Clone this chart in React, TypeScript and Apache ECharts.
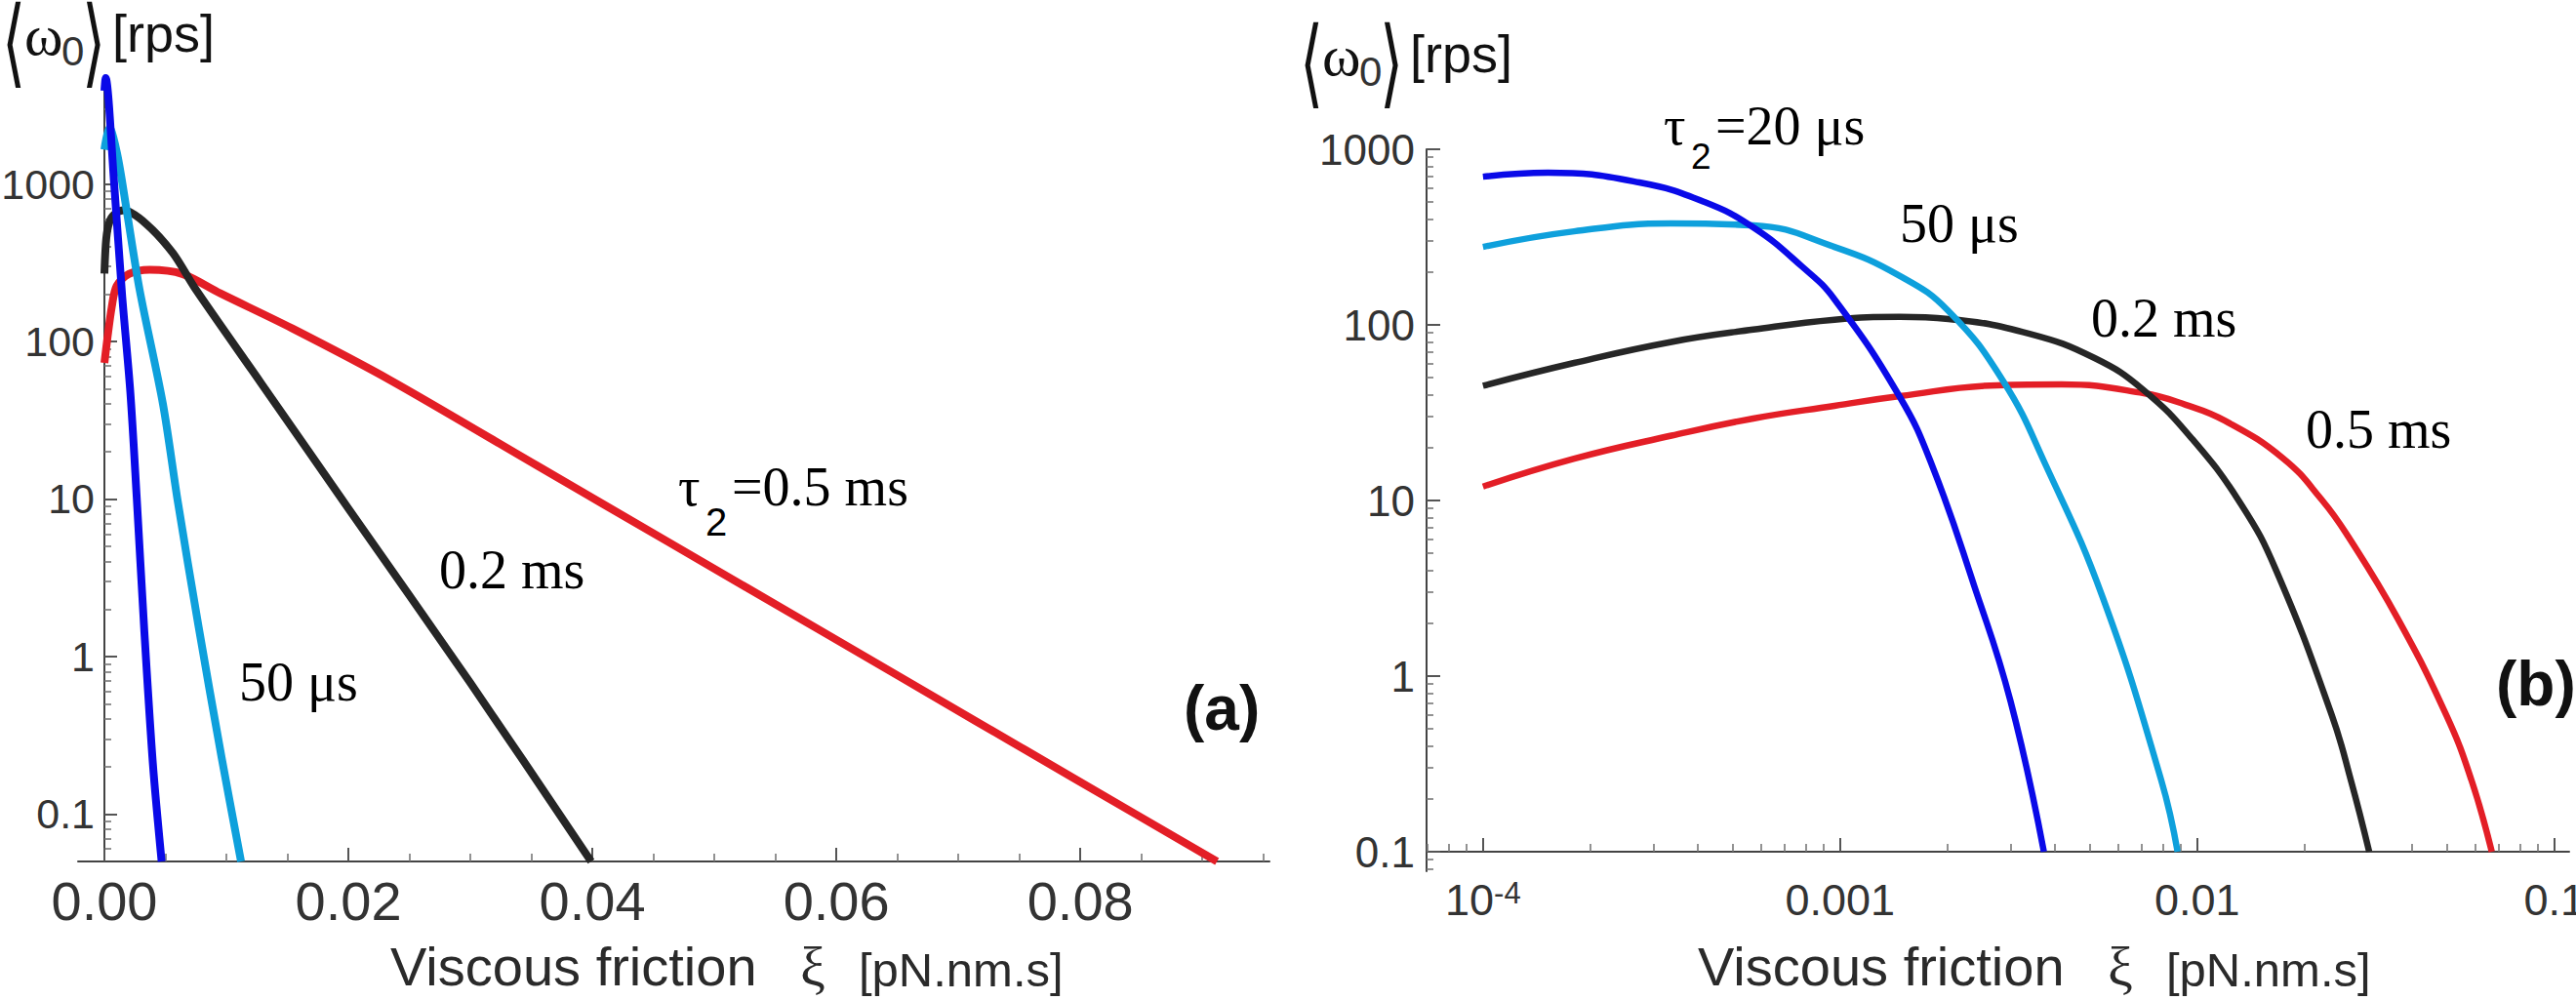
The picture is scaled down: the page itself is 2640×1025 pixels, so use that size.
import React, { useEffect, useRef } from "react";
import * as echarts from "echarts";

// ---------------- data: panel (a), linear xi, log omega ----------------
const aXi20us = [0, 0.0001, 0.0008, 0.00144, 0.00213, 0.00264, 0.00326, 0.00397, 0.00469];
const aW20us = [3900, 4700, 1000, 202, 47, 10.5, 1.5, 0.21, 0.05];

const aXi50us = [0, 0.0004, 0.00104, 0.0018, 0.00288, 0.0048, 0.006, 0.0077, 0.0096, 0.0112];
const aW50us = [1650, 2290, 1560, 700, 214, 40, 9.8, 1.58, 0.23, 0.05];

const aXi02ms = [0, 0.00015, 0.0004, 0.0008, 0.0016, 0.0034, 0.0056, 0.0074, 0.0128, 0.02, 0.03, 0.0399];
const aW02ms = [270, 450, 570, 640, 680, 560, 365, 219, 55, 8.7, 0.68, 0.05];

const aXi05ms = [0, 0.00024, 0.0006, 0.001, 0.002, 0.0037, 0.0064, 0.0095, 0.0154, 0.0234, 0.0354, 0.0461, 0.0594, 0.0714, 0.0794, 0.0912];
const aW05ms = [73, 104, 165, 225, 268, 285, 268, 202, 121, 57, 16.4, 5.4, 1.36, 0.39, 0.17, 0.05];

// ---------------- data: panel (b), log xi, log omega ----------------
const bXi20us = [1e-4, 1.52e-4, 2.74e-4, 4.17e-4, 5.71e-4, 7.82e-4, 9.64e-4, 1.47e-3, 1.81e-3, 2.37e-3, 3.0e-3, 3.72e-3];
const bW20us = [698, 736, 647, 501, 359, 215, 140, 38.8, 15.8, 3.3, 0.72, 0.1];

const bXi50us = [1e-4, 1.8e-4, 3.37e-4, 5.71e-4, 9.64e-4, 1.47e-3, 2.01e-3, 2.86e-3, 3.77e-3, 5.43e-3, 7.93e-3, 8.81e-3];
const bW50us = [278, 341, 378, 369, 278, 190, 120, 47.9, 15.8, 2.82, 0.255, 0.1];

const bXi02ms = [1e-4, 1.8e-4, 3.37e-4, 5.71e-4, 9.64e-4, 1.47e-3, 2.01e-3, 3.39e-3, 5.16e-3, 7.08e-3, 9.68e-3, 1.327e-2, 1.663e-2, 2.38e-2, 2.7e-2, 3.03e-2];
const bW02ms = [45, 60.7, 80, 94, 107, 111, 108, 89, 64.7, 42.5, 22.4, 9.5, 4.0, 0.6, 0.25, 0.1];

const bXi05ms = [1e-4, 1.8e-4, 3.37e-4, 5.71e-4, 9.64e-4, 1.47e-3, 2.75e-3, 4.17e-3, 7.08e-3, 9.27e-3, 1.194e-2, 1.738e-2, 2.24e-2, 2.65e-2, 3.63e-2, 4.98e-2, 5.86e-2, 6.68e-2];
const bW05ms = [12, 17.3, 23.4, 29.3, 34.6, 39.3, 45.3, 45.8, 40.8, 35.1, 28.5, 17.4, 10, 6.2, 2.15, 0.6, 0.255, 0.1];

// ---------------- ticks ----------------
const aXMajor = [0, 0.02, 0.04, 0.06, 0.08];
const aXMinor = [0.005, 0.01, 0.015, 0.025, 0.03, 0.035, 0.045, 0.05, 0.055, 0.065, 0.07, 0.075, 0.085, 0.09, 0.095];
const aYMajor = [0.1, 1, 10, 100, 1000];
const aYMinor = [0.06, 0.07, 0.08, 0.09, 0.2, 0.3, 0.4, 0.5, 0.6, 0.7, 0.8, 0.9, 2, 3, 4, 5, 6, 7, 8, 9,
  20, 30, 40, 50, 60, 70, 80, 90, 200, 300, 400, 500, 600, 700, 800, 900, 2000, 3000, 4000];

const bXMajor = [1e-4, 1e-3, 1e-2, 1e-1];
const bXMajorLabels = ["{b|10}{s|-4}", "0.001", "0.01", "0.1"];
const bXMinor = [7e-5, 8e-5, 9e-5, 2e-4, 3e-4, 4e-4, 5e-4, 6e-4, 7e-4, 8e-4, 9e-4,
  2e-3, 3e-3, 4e-3, 5e-3, 6e-3, 7e-3, 8e-3, 9e-3, 0.02, 0.03, 0.04, 0.05, 0.06, 0.07, 0.08, 0.09];
const bYMajor = [0.1, 1, 10, 100, 1000];
const bYMinor = [0.08, 0.09, 0.2, 0.3, 0.4, 0.5, 0.6, 0.7, 0.8, 0.9, 2, 3, 4, 5, 6, 7, 8, 9,
  20, 30, 40, 50, 60, 70, 80, 90, 200, 300, 400, 500, 600, 700, 800, 900];

const COLORS = { tau20: "#0a0ae8", tau50: "#0ea0dc", tau02: "#262626", tau05: "#e31e26" };

const SANS = "'Liberation Sans', Arial, Helvetica, sans-serif";
const NARROW = "'Liberation Sans Narrow', 'Arial Narrow', 'Liberation Sans', sans-serif";
const SERIF = "'Liberation Serif', 'Times New Roman', serif";
const BRACKET = "'DejaVu Sans', sans-serif";

const zip = (xs: number[], ys: number[]) => xs.map((x, i) => [x, ys[i]]);

function txt(x: number, baseline: number, text: string, size: number, family: string, color = "#000", weight = "normal", extra: any = {}) {
  const k = family === SERIF ? 0.3375 : 0.3465;
  return {
    type: "text",
    x,
    y: baseline - k * size,
    silent: true,
    ...extra,
    style: {
      text,
      font: `${weight} ${size}px ${family}`,
      fontSize: size,
      fontFamily: family,
      fontWeight: weight,
      fill: color,
      align: "left",
      verticalAlign: "middle",
      textAlign: "left",
      textVerticalAlign: "middle",
    },
  };
}

// tall thin angle bracket: text glyph stretched vertically around its centre
function bracket(x: number, centerY: number, ch: string) {
  return {
    type: "text",
    x,
    y: centerY + 6,
    scaleY: 1.6,
    silent: true,
    style: {
      text: ch,
      font: `normal 62px ${BRACKET}`,
      fontSize: 62,
      fontFamily: BRACKET,
      fill: "#111",
      align: "left",
      verticalAlign: "middle",
      textAlign: "left",
      textVerticalAlign: "middle",
    },
  };
}

function yTitle(dx: number, dy: number) {
  return [
    bracket(2 + dx, 37 + dy, "\u27E8"),
    txt(25 + dx, 56 + dy, "\u03C9", 60, SERIF, "#111"),
    txt(63 + dx, 67 + dy, "0", 42, NARROW, "#333"),
    bracket(84 + dx, 37 + dy, "\u27E9"),
    txt(115 + dx, 53 + dy, "[rps]", 54, SANS, "#111"),
  ];
}

function xTitle(dx: number) {
  return [
    txt(400 + dx, 1010, "Viscous friction", 56, SANS, "#2a2a2a"),
    txt(820 + dx, 1010, "\u03BE", 58, SERIF, "#2a2a2a"),
    txt(880 + dx, 1011, "[pN.nm.s]", 49, SANS, "#2a2a2a"),
  ];
}

function tauLabel(x: number, base: number, rest: string, subSize: number, subDrop: number, restDx: number) {
  return [
    txt(x, base, "\u03C4", 56, SERIF),
    txt(x + 28, base + subDrop, "2", subSize, SANS),
    txt(x + restDx, base, rest, 56, SERIF),
  ];
}

function lineSeries(xAxisIndex: number, yAxisIndex: number, xs: number[], ys: number[], color: string, width: number, name: string, smooth: number) {
  return {
    type: "line",
    name,
    xAxisIndex,
    yAxisIndex,
    data: zip(xs, ys),
    showSymbol: false,
    symbol: "none",
    smooth,
    clip: true,
    lineStyle: { color, width, cap: "butt", join: "round" },
    itemStyle: { color },
    emphasis: { disabled: true },
  };
}

const AXIS_LINE = { color: "#444", width: 2 };
const MAJOR_TICK = { color: "#555", width: 2 };
const MINOR_TICK = { color: "#777", width: 1.6 };

function buildOption() {
  const gridCommon = { containLabel: false, outerBoundsMode: "none", show: false };
  const majorLabel = (size: number, family: string, margin: number) => ({
    show: true,
    fontSize: size,
    fontFamily: family,
    color: "#333",
    margin,
  });

  return {
    animation: false,
    backgroundColor: "#ffffff",
    grid: [
      { ...gridCommon, left: 80, top: 80, width: 1221, height: 803 },
      { ...gridCommon, left: 1462, top: 153, width: 1171, height: 720 },
      { ...gridCommon, left: 1462, top: 153, width: 1171, height: 740 },
    ],
    xAxis: [
      {
        type: "value", gridIndex: 0, position: "bottom", min: -0.00216, max: 0.0955,
        axisLine: { show: true, onZero: false, lineStyle: AXIS_LINE },
        axisTick: { show: true, inside: true, length: 14, customValues: aXMajor, lineStyle: MAJOR_TICK },
        axisLabel: { ...majorLabel(56, NARROW, 12), customValues: aXMajor, formatter: (v: number) => v.toFixed(2) },
        splitLine: { show: false },
      },
      {
        type: "value", gridIndex: 0, position: "bottom", min: -0.00216, max: 0.0955,
        axisLine: { show: false, onZero: false },
        axisTick: { show: true, inside: true, length: 8, customValues: aXMinor, lineStyle: MINOR_TICK },
        axisLabel: { show: false },
        splitLine: { show: false },
      },
      {
        type: "log", logBase: 10, gridIndex: 1, position: "bottom", min: 6.95e-5, max: 0.11,
        axisLine: { show: true, onZero: false, lineStyle: AXIS_LINE },
        axisTick: { show: true, inside: true, length: 14, customValues: bXMajor, lineStyle: MAJOR_TICK },
        axisLabel: {
          ...majorLabel(45, SANS, 27),
          customValues: bXMajor,
          formatter: (v: number) => {
            let best = 0;
            bXMajor.forEach((t, i) => { if (Math.abs(Math.log10(t) - Math.log10(v)) < Math.abs(Math.log10(bXMajor[best]) - Math.log10(v))) best = i; });
            return bXMajorLabels[best];
          },
          rich: {
            b: { fontSize: 45, fontFamily: SANS, color: "#333" },
            s: { fontSize: 31, fontFamily: SANS, color: "#333", verticalAlign: "top" },
          },
        },
        splitLine: { show: false },
      },
      {
        type: "log", logBase: 10, gridIndex: 1, position: "bottom", min: 6.95e-5, max: 0.11,
        axisLine: { show: false, onZero: false },
        axisTick: { show: true, inside: true, length: 8, customValues: bXMinor, lineStyle: MINOR_TICK },
        axisLabel: { show: false },
        splitLine: { show: false },
      },
      {
        type: "value", gridIndex: 2, position: "bottom", min: 0, max: 1, show: false,
      },
    ],
    yAxis: [
      {
        type: "log", logBase: 10, gridIndex: 0, position: "left", min: 0.05, max: 4700,
        axisLine: { show: true, onZero: true, onZeroAxisIndex: 0, lineStyle: AXIS_LINE },
        axisTick: { show: true, inside: true, length: 13, customValues: aYMajor, lineStyle: MAJOR_TICK },
        // labels stay at the grid's left edge (x=80) when the line sits on x=0; shift them to x≈97
        axisLabel: { ...majorLabel(43, SANS, -17), customValues: aYMajor, formatter: (v: number) => String(v) },
        splitLine: { show: false },
      },
      {
        type: "log", logBase: 10, gridIndex: 0, position: "left", min: 0.05, max: 4700,
        axisLine: { show: true, onZero: true, onZeroAxisIndex: 0, lineStyle: AXIS_LINE },
        axisTick: { show: true, inside: true, length: 7, customValues: aYMinor, lineStyle: MINOR_TICK },
        axisLabel: { show: false },
        splitLine: { show: false },
      },
      {
        type: "log", logBase: 10, gridIndex: 1, position: "left", min: 0.1, max: 1000,
        axisLine: { show: false, onZero: false },
        axisTick: { show: true, inside: true, length: 14, customValues: bYMajor, lineStyle: MAJOR_TICK },
        axisLabel: { ...majorLabel(44, SANS, 12), customValues: bYMajor, formatter: (v: number) => String(v) },
        splitLine: { show: false },
      },
      {
        type: "log", logBase: 10, gridIndex: 2, position: "left", min: 0.07743, max: 1000,
        axisLine: { show: true, onZero: false, lineStyle: AXIS_LINE },
        axisTick: { show: true, inside: true, length: 7, customValues: bYMinor, lineStyle: MINOR_TICK },
        axisLabel: { show: false },
        splitLine: { show: false },
      },
    ],
    series: [
      lineSeries(0, 0, aXi05ms, aW05ms, COLORS.tau05, 8, "a 0.5 ms", 0.3),
      lineSeries(0, 0, aXi02ms, aW02ms, COLORS.tau02, 8, "a 0.2 ms", 0.3),
      lineSeries(0, 0, aXi50us, aW50us, COLORS.tau50, 8, "a 50 us", 0.3),
      lineSeries(0, 0, aXi20us, aW20us, COLORS.tau20, 8, "a 20 us", 0.3),
      lineSeries(2, 2, bXi05ms, bW05ms, COLORS.tau05, 6.5, "b 0.5 ms", 0.45),
      lineSeries(2, 2, bXi02ms, bW02ms, COLORS.tau02, 6.5, "b 0.2 ms", 0.45),
      lineSeries(2, 2, bXi50us, bW50us, COLORS.tau50, 6.5, "b 50 us", 0.45),
      lineSeries(2, 2, bXi20us, bW20us, COLORS.tau20, 6.5, "b 20 us", 0.45),
    ],
    graphic: {
      elements: [
        ...yTitle(0, 0),
        ...yTitle(1330, 21),
        ...xTitle(0),
        ...xTitle(1340),
        // panel (a) curve labels
        ...tauLabel(695, 518, "=0.5 ms", 40, 31, 55),
        txt(450, 603, "0.2 ms", 56, SERIF),
        txt(245, 718, "50 \u03BCs", 56, SERIF),
        txt(1213, 748, "(a)", 64, SANS, "#111", "bold"),
        // panel (b) curve labels
        ...tauLabel(1705, 148, "=20 \u03BCs", 37, 25, 53),
        txt(1947, 248, "50 \u03BCs", 56, SERIF),
        txt(2143, 345, "0.2 ms", 56, SERIF),
        txt(2363, 459, "0.5 ms", 56, SERIF),
        txt(2558, 723, "(b)", 64, SANS, "#111", "bold"),
      ],
    },
  };
}

export default function App() {
  const ref = useRef<HTMLDivElement>(null);
  useEffect(() => {
    document.body.style.margin = "0";
    const chart = echarts.init(ref.current as HTMLDivElement, null, { renderer: "svg", width: 2640, height: 1025 });
    chart.setOption(buildOption() as any);
    return () => chart.dispose();
  }, []);
  return <div ref={ref} style={{ width: 2640, height: 1025 }} />;
}
